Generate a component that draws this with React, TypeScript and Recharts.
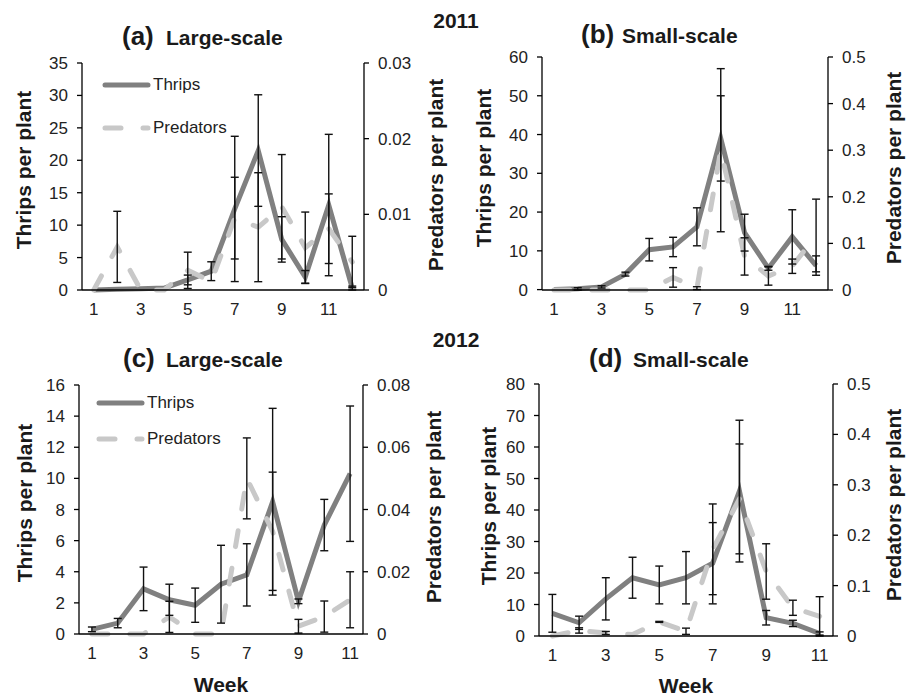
import React from 'react';
import { LineChart, Line, XAxis, YAxis, ErrorBar, Legend } from 'recharts';

const FONT = '"Liberation Sans", Arial, Helvetica, sans-serif';
const INK = '#1a1a1a';
const THRIPS_COLOR = '#808080';
const PRED_COLOR = '#c8c8c8';

// ---- 2011 ----
const weeks2011 = [1, 2, 3, 4, 5, 6, 7, 8, 9, 10, 11, 12];
const thripsLarge2011 = [0, 0.1, 0.2, 0.3, 1.55, 2.9, 12.5, 21.5, 7.8, 2.0, 13.1, 0.3];
const thripsLargeErr2011 = [0, 0, 0, 0, 0.75, 1.45, 11.2, 8.6, 3.5, 1.0, 10.9, 0.3];
const predLarge2011 = [0, 0.0057, 0, 0, 0.0026, 0.0011, 0.0095, 0.0083, 0.0110, 0.0056, 0.0081, 0.0037];
const predLargeErr2011 = [0, 0.0047, 0, 0, 0.0024, 0, 0.0054, 0.0072, 0.0069, 0.0047, 0.0046, 0.0034];

const thripsSmall2011 = [0, 0.2, 0.7, 4.0, 10.3, 11.0, 16.2, 39.0, 14.7, 5.5, 13.6, 6.2];
const thripsSmallErr2011 = [0, 0.3, 0.3, 0.5, 2.9, 2.5, 4.9, 11.0, 4.75, 0.5, 7.0, 2.5];
const predSmall2011 = [0, 0, 0, 0, 0, 0.027, 0.004, 0.3, 0.072, 0.030, 0.051, 0.117];
const predSmallErr2011 = [0, 0, 0, 0, 0, 0.021, 0.003, 0.175, 0.04, 0.0196, 0.0154, 0.078];

// ---- 2012 ----
const weeks2012 = [1, 2, 3, 4, 5, 6, 7, 8, 9, 10, 11];
const thripsLarge2012 = [0.3, 0.7, 2.9, 2.2, 1.85, 3.2, 3.8, 8.5, 2.1, 7.0, 10.3];
const thripsLargeErr2012 = [0.15, 0.3, 1.4, 1.0, 1.1, 2.5, 2.0, 6.0, 0.15, 1.65, 4.35];
const predLarge2012 = [0, 0, 0, 0.0055, 0, 0, 0.050, 0.033, 0.0025, 0.0056, 0.011];
const predLargeErr2012 = [0, 0, 0, 0.005, 0, 0, 0.013, 0.019, 0.0022, 0.005, 0.009];

const thripsSmall2012 = [7.2, 4.2, 11.8, 18.5, 16.2, 18.5, 23.1, 46.0, 5.8, 4.0, 0.8];
const thripsSmallErr2012 = [6.0, 2.1, 6.7, 6.5, 6.0, 8.3, 12.9, 22.5, 2.3, 1.0, 0.5];
const predSmall2012 = [0, 0.011, 0.006, 0.003, 0.028, 0.0094, 0.172, 0.272, 0.128, 0.056, 0.039];
const predSmallErr2012 = [0, 0.0053, 0.003, 0, 0.001, 0.0062, 0.09, 0.109, 0.055, 0.015, 0.039];

// ---- axes ----
const weekLabels = [1, 3, 5, 7, 9, 11];
const thripsTicksA = [0, 5, 10, 15, 20, 25, 30, 35];
const predTicksA = [0, 0.01, 0.02, 0.03];
const thripsTicksB = [0, 10, 20, 30, 40, 50, 60];
const predTicksB = [0, 0.1, 0.2, 0.3, 0.4, 0.5];
const thripsTicksC = [0, 2, 4, 6, 8, 10, 12, 14, 16];
const predTicksC = [0, 0.02, 0.04, 0.06, 0.08];
const thripsTicksD = [0, 10, 20, 30, 40, 50, 60, 70, 80];
const predTicksD = [0, 0.1, 0.2, 0.3, 0.4, 0.5];

const nz = (v: number) => (v ? v : null);

function rows(weeks: number[], thrips: number[], thripsErr: number[], pred: number[], predErr: number[]) {
    return weeks.map((w, i) => ({
        week: w,
        thrips: thrips[i],
        thripsErr: nz(thripsErr[i]),
        pred: pred[i],
        predErr: nz(predErr[i]),
    }));
}

interface PanelCfg {
    left: number; top: number; width: number; height: number;
    margin: { top: number; right: number; bottom: number; left: number };
    leftW: number;
    leftTitle: [number, number];
    rightTitle: [number, number];
    legend?: { x: number; y: number; gap: number };
}

const axisLine = { stroke: '#000', strokeWidth: 1.3 };
const tickStyle = { fontSize: 17, fill: '#222', fontFamily: FONT };
const LINE_W = 5;
const DASH = '16 22';

function LegendBox({ gap }: { gap: number }) {
    const items = [
        { name: 'Thrips', color: THRIPS_COLOR, dash: undefined as string | undefined },
        { name: 'Predators', color: PRED_COLOR, dash: DASH },
    ];
    return (
        <div style={{ fontFamily: FONT, fontSize: 17, color: '#222' }}>
            {items.map(it => (
                <div key={it.name} style={{ display: 'flex', alignItems: 'center', height: gap }}>
                    <svg width={51} height={10} style={{ display: 'block' }}>
                        <line x1={3} y1={5} x2={46} y2={5} stroke={it.color} strokeWidth={LINE_W}
                            strokeLinecap="round" strokeDasharray={it.dash} />
                    </svg>
                    <span>{it.name}</span>
                </div>
            ))}
        </div>
    );
}

function axisTitle(text: string, x: number, y: number) {
    return () => (
        <text x={x} y={y} transform={`rotate(-90 ${x} ${y})`} textAnchor="middle" dominantBaseline="central"
            fontFamily={FONT} fontSize={21} fontWeight="bold" fill={INK}>{text}</text>
    );
}

function Panel({ cfg, data, weeks, thripsTicks, predTicks }: {
    cfg: PanelCfg; data: any[]; weeks: number[]; thripsTicks: number[]; predTicks: number[];
}) {
    const n = weeks.length;
    // tick marks sit between weeks, labels on odd weeks
    const edges = weeks.map(w => w - 0.5).concat(weeks[n - 1] + 0.5);
    const domain: [number, number] = [edges[0], edges[n]];
    return (
        <div style={{ position: 'absolute', left: cfg.left, top: cfg.top }}>
            <LineChart width={cfg.width} height={cfg.height} data={data} margin={cfg.margin}>
                <XAxis xAxisId="edge" type="number" dataKey="week" domain={domain} ticks={edges}
                    height={1} tick={false} tickSize={5} axisLine={axisLine} tickLine={axisLine} />
                <XAxis xAxisId="lab" type="number" dataKey="week" domain={domain} ticks={weekLabels}
                    height={28} tickSize={5} tickMargin={7} axisLine={false} tickLine={false} tick={tickStyle} />
                <YAxis yAxisId="t" domain={[0, thripsTicks[thripsTicks.length - 1]]} ticks={thripsTicks}
                    interval={0} width={cfg.leftW} tickSize={5} tickMargin={9} axisLine={axisLine} tickLine={axisLine}
                    tick={tickStyle} label={axisTitle('Thrips per plant', cfg.leftTitle[0], cfg.leftTitle[1])} />
                <YAxis yAxisId="p" orientation="right" domain={[0, predTicks[predTicks.length - 1]]} ticks={predTicks}
                    interval={0} width={60} tickSize={5} tickMargin={9} axisLine={axisLine} tickLine={axisLine}
                    tick={tickStyle} label={axisTitle('Predators per plant', cfg.rightTitle[0], cfg.rightTitle[1])} />
                {cfg.legend && (
                    <Legend layout="vertical" align="center" verticalAlign="middle"
                        wrapperStyle={{ left: cfg.legend.x - 1, top: cfg.legend.y - cfg.legend.gap / 2, width: 'auto', height: 'auto' }}
                        content={() => <LegendBox gap={cfg.legend!.gap} />} />
                )}
                <Line xAxisId="edge" yAxisId="t" dataKey="thrips" name="Thrips" stroke={THRIPS_COLOR} strokeWidth={LINE_W}
                    dot={false} activeDot={false} isAnimationActive={false} />
                <Line xAxisId="edge" yAxisId="p" dataKey="pred" name="Predators" stroke={PRED_COLOR} strokeWidth={LINE_W}
                    strokeDasharray={DASH} strokeLinecap="round" dot={false} activeDot={false} isAnimationActive={false} />
                {/* invisible copies so the error bars draw above both lines */}
                <Line xAxisId="edge" yAxisId="t" dataKey="thrips" stroke="none" legendType="none"
                    dot={false} activeDot={false} isAnimationActive={false}>
                    <ErrorBar dataKey="thripsErr" width={4} strokeWidth={1.4} stroke="#111" direction="y" />
                </Line>
                <Line xAxisId="edge" yAxisId="p" dataKey="pred" stroke="none" legendType="none"
                    dot={false} activeDot={false} isAnimationActive={false}>
                    <ErrorBar dataKey="predErr" width={4} strokeWidth={1.4} stroke="#111" direction="y" />
                </Line>
            </LineChart>
        </div>
    );
}

const cfgA: PanelCfg = {
    left: 0, top: 0, width: 456, height: 320, margin: { top: 63, right: 32, bottom: 1, left: 0 },
    leftW: 82, leftTitle: [23, 170], rightTitle: [435, 175], legend: { x: 103, y: 85, gap: 43 },
};
const cfgB: PanelCfg = {
    left: 456, top: 0, width: 456, height: 320, margin: { top: 57, right: 24, bottom: 1, left: 0 },
    leftW: 86, leftTitle: [27, 168], rightTitle: [437, 168],
};
const cfgC: PanelCfg = {
    left: 0, top: 330, width: 456, height: 369, margin: { top: 55, right: 33, bottom: 36, left: 0 },
    leftW: 79, leftTitle: [24, 173], rightTitle: [433, 177], legend: { x: 97, y: 73, gap: 36 },
};
const cfgD: PanelCfg = {
    left: 456, top: 330, width: 456, height: 369, margin: { top: 54, right: 19, bottom: 34, left: 0 },
    leftW: 83, leftTitle: [32, 176], rightTitle: [437, 175],
};

function Title({ x, y, tag, text, gap }: { x: number; y: number; tag: string; text: string; gap: number }) {
    return (
        <text y={y} fontFamily={FONT} fontWeight="bold" fill={INK}>
            <tspan x={x} fontSize={26}>{tag}</tspan>
            <tspan x={x + gap} fontSize={21}>{text}</tspan>
        </text>
    );
}

export default function App() {
    return (
        <div style={{ position: 'absolute', left: 0, top: 0, width: 912, height: 699, background: '#fff', overflow: 'hidden' }}>
            <Panel cfg={cfgA} weeks={weeks2011} thripsTicks={thripsTicksA} predTicks={predTicksA}
                data={rows(weeks2011, thripsLarge2011, thripsLargeErr2011, predLarge2011, predLargeErr2011)} />
            <Panel cfg={cfgB} weeks={weeks2011} thripsTicks={thripsTicksB} predTicks={predTicksB}
                data={rows(weeks2011, thripsSmall2011, thripsSmallErr2011, predSmall2011, predSmallErr2011)} />
            <Panel cfg={cfgC} weeks={weeks2012} thripsTicks={thripsTicksC} predTicks={predTicksC}
                data={rows(weeks2012, thripsLarge2012, thripsLargeErr2012, predLarge2012, predLargeErr2012)} />
            <Panel cfg={cfgD} weeks={weeks2012} thripsTicks={thripsTicksD} predTicks={predTicksD}
                data={rows(weeks2012, thripsSmall2012, thripsSmallErr2012, predSmall2012, predSmallErr2012)} />
            <svg width={912} height={699} style={{ position: 'absolute', left: 0, top: 0, pointerEvents: 'none' }}>
                <text x={456} y={28} textAnchor="middle" fontFamily={FONT} fontSize={21} fontWeight="bold" fill={INK}>2011</text>
                <text x={456} y={347} textAnchor="middle" fontFamily={FONT} fontSize={21} fontWeight="bold" fill={INK}>2012</text>
                <Title x={122} y={45} tag="(a)" text="Large-scale" gap={44} />
                <Title x={581} y={43} tag="(b)" text="Small-scale" gap={41} />
                <Title x={123} y={367} tag="(c)" text="Large-scale" gap={43} />
                <Title x={589} y={367} tag="(d)" text="Small-scale" gap={44} />
                <text x={221} y={692} textAnchor="middle" fontFamily={FONT} fontSize={21} fontWeight="bold" fill={INK}>Week</text>
                <text x={686} y={693} textAnchor="middle" fontFamily={FONT} fontSize={21} fontWeight="bold" fill={INK}>Week</text>
            </svg>
        </div>
    );
}
